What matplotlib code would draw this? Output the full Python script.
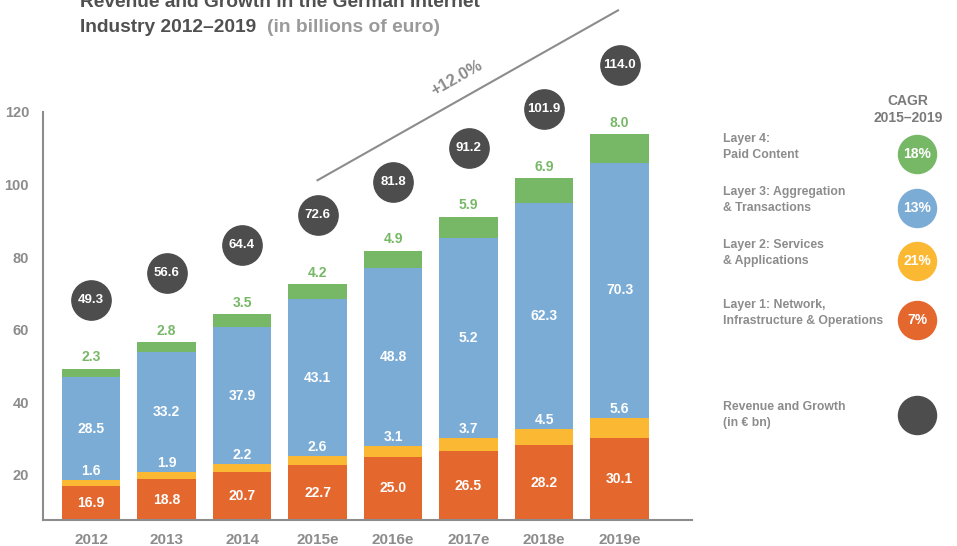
import matplotlib.pyplot as plt
import numpy as np

plt.rcParams['font.family'] = ['Liberation Sans', 'DejaVu Sans']
plt.rcParams['font.weight'] = 'bold'

# data (billions of euro)
years = ['2012', '2013', '2014', '2015e', '2016e', '2017e', '2018e', '2019e']
layer1 = [16.9, 18.8, 20.7, 22.7, 25.0, 26.5, 28.2, 30.1]
layer2 = [1.6, 1.9, 2.2, 2.6, 3.1, 3.7, 4.5, 5.6]
layer3 = [28.5, 33.2, 37.9, 43.1, 48.8, 55.1, 62.3, 70.3]
layer4 = [2.3, 2.8, 3.5, 4.2, 4.9, 5.9, 6.9, 8.0]
totals = [49.3, 56.6, 64.4, 72.6, 81.8, 91.2, 101.9, 114.0]
# the source prints "5.2" on the 2017e blue segment
layer3_labels = ['28.5', '33.2', '37.9', '43.1', '48.8', '5.2', '62.3', '70.3']

legend_names = ['Layer 4:\nPaid Content', 'Layer 3: Aggregation\n& Transactions',
                'Layer 2: Services\n& Applications', 'Layer 1: Network,\nInfrastructure & Operations']
cagr = ['18%', '13%', '21%', '7%']

RED = '#E4672E'
YELLOW = '#FBB833'
BLUE = '#7BACD5'
GREEN = '#77B867'
DARK = '#4D4D4D'
GRAY = '#8C8C8C'
B = 'bold'

fig = plt.figure(figsize=(9.57, 5.46), dpi=100)
ax = fig.add_axes([43/957, 26/546, 649/957, 408/546])

x = np.arange(len(years))
w = 0.77
l1 = np.array(layer1)
l2 = np.array(layer2)
l3 = np.array(layer3)
l4 = np.array(layer4)

ax.bar(x, l1, w, color=RED)
ax.bar(x, l2, w, bottom=l1, color=YELLOW)
ax.bar(x, l3, w, bottom=l1 + l2, color=BLUE)
ax.bar(x, l4, w, bottom=l1 + l2 + l3, color=GREEN)

ymin = 7.6
ax.set_xlim(-0.636, 7.96)
ax.set_ylim(ymin, 120)

for i in range(len(years)):
    ax.text(x[i], (ymin + l1[i]) / 2, f'{l1[i]:.1f}', ha='center', va='center',
            color='white', fontsize=10, fontweight=B)
    ax.annotate(f'{l2[i]:.1f}', (x[i], l1[i] + l2[i]), xytext=(0, 1.5),
                textcoords='offset points', ha='center', va='bottom',
                color='white', fontsize=10, fontweight=B)
    ax.text(x[i], l1[i] + l2[i] + l3[i] / 2, layer3_labels[i], ha='center',
            va='center', color='white', fontsize=10, fontweight=B)
    ax.annotate(f'{l4[i]:.1f}', (x[i], l1[i] + l2[i] + l3[i] + l4[i]), xytext=(0, 3),
                textcoords='offset points', ha='center', va='bottom',
                color=GREEN, fontsize=10, fontweight=B)

# total circles
circ_y = np.array(totals) + 19
ax.scatter(x, circ_y, s=800, color=DARK, clip_on=False, zorder=3)
for i in range(len(years)):
    ax.text(x[i], circ_y[i], f'{totals[i]:.1f}', ha='center', va='center',
            color='white', fontsize=9.5, fontweight=B, zorder=4)

# growth line
ax.plot([3.0, 6.98], [101.2, 148], color=GRAY, lw=1.5, clip_on=False)
ax.text(4.85, 129.3, '+12.0%', rotation=29.5, rotation_mode='anchor',
        ha='center', va='center', color=GRAY, fontsize=12, fontweight=B)

ax.set_xticks(x)
ax.set_xticklabels(years, fontweight=B, fontsize=11)
ax.set_yticks([20, 40, 60, 80, 100, 120])
ax.set_yticklabels(['20', '40', '60', '80', '100', '120'], fontweight=B, fontsize=10.5)
ax.tick_params(length=0, colors=GRAY)
ax.tick_params(axis='x', pad=9)
ax.tick_params(axis='y', pad=10)
for s in ['top', 'right']:
    ax.spines[s].set_visible(False)
for s in ['left', 'bottom']:
    ax.spines[s].set_color(GRAY)
    ax.spines[s].set_linewidth(1.5)

# title (first line is cut by the top edge, as in the source)
fig.text(80/957, 1 - 7/546, 'Revenue and Growth in the German Internet',
         fontsize=13.8, color='#505050', va='baseline', fontweight=B)
t2 = fig.text(80/957, 1 - 32/546, 'Industry 2012\u20132019  ', fontsize=13.8,
              color='#505050', va='baseline', fontweight=B)
fig.canvas.draw()
bb = t2.get_window_extent()
fig.text(bb.x1 / fig.bbox.width, 1 - 32/546, '(in billions of euro)', fontsize=13.8,
         color='#9A9A9A', va='baseline', fontweight=B)

# legend on the right
lg = fig.add_axes([0, 0, 1, 1])
lg.set_xlim(0, 957)
lg.set_ylim(546, 0)
lg.axis('off')
lg.text(908, 101, 'CAGR', ha='center', va='center', color='#7A7A7A', fontsize=10, fontweight=B)
lg.text(908, 118, '2015\u20132019', ha='center', va='center', color='#7A7A7A', fontsize=10,
        fontweight=B)
leg_y = [147, 200, 253, 313]
leg_cy = [154, 208, 261, 320]
leg_colors = [GREEN, BLUE, YELLOW, RED]
for name, pct, ty, cy, c in zip(legend_names, cagr, leg_y, leg_cy, leg_colors):
    lg.text(723, ty, name, ha='left', va='center', color=GRAY, fontsize=8.8,
            linespacing=1.35, fontweight=B)
    lg.scatter([917], [cy], s=750, color=c)
    lg.text(917, cy, pct, ha='center', va='center', color='white', fontsize=10, fontweight=B)
lg.text(723, 415, 'Revenue and Growth\n(in \u20ac bn)', ha='left', va='center',
        color=GRAY, fontsize=8.8, linespacing=1.35, fontweight=B)
lg.scatter([917], [415], s=750, color=DARK)

fig.savefig('out.png', dpi=100)
